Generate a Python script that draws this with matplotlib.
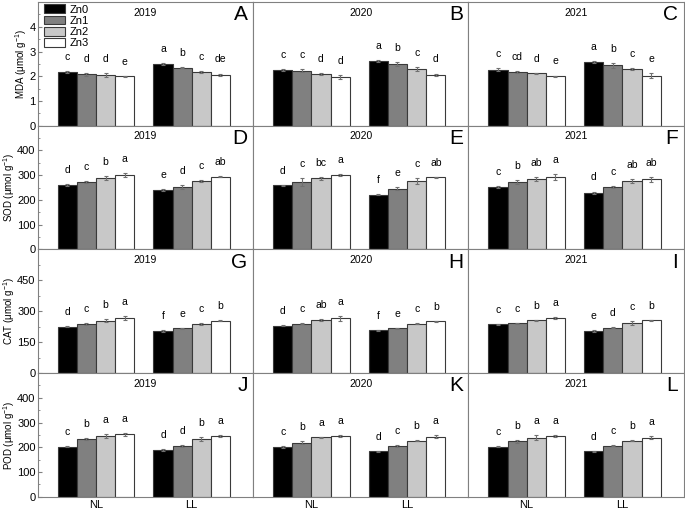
import numpy as np
import matplotlib.pyplot as plt

# treatments, groups, years
zn_levels = ['Zn0', 'Zn1', 'Zn2', 'Zn3']
groups = ['NL', 'LL']
years = ['2019', '2020', '2021']
bar_colors = ['#000000', '#808080', '#c8c8c8', '#ffffff']

# MDA (umol g-1): [year][group][zn]
mda = [[[2.17, 2.08, 2.04, 1.99], [2.49, 2.34, 2.18, 2.05]],
       [[2.27, 2.23, 2.09, 1.97], [2.61, 2.48, 2.30, 2.07]],
       [[2.27, 2.18, 2.13, 1.99], [2.57, 2.44, 2.29, 2.03]]]
mda_err = [[[0.03, 0.07, 0.09, 0.03], [0.05, 0.02, 0.03, 0.06]],
           [[0.04, 0.05, 0.04, 0.08], [0.03, 0.08, 0.07, 0.04]],
           [[0.07, 0.03, 0.02, 0.04], [0.03, 0.09, 0.03, 0.11]]]
mda_sig = [[['c', 'd', 'd', 'e'], ['a', 'b', 'c', 'de']],
           [['c', 'c', 'd', 'd'], ['a', 'b', 'c', 'd']],
           [['c', 'cd', 'd', 'e'], ['a', 'b', 'c', 'e']]]

# SOD (umol g-1)
sod = [[[260, 273, 288, 300], [240, 253, 276, 293]],
       [[259, 273, 287, 301], [221, 245, 275, 292]],
       [[253, 272, 285, 291], [229, 253, 277, 283]]]
sod_err = [[[3, 3, 9, 8], [3, 8, 3, 2]],
           [[2, 15, 5, 3], [2, 6, 12, 2]],
           [[3, 8, 8, 12], [5, 3, 7, 10]]]
sod_sig = [[['d', 'c', 'b', 'a'], ['e', 'd', 'c', 'ab']],
           [['d', 'c', 'bc', 'a'], ['f', 'e', 'c', 'ab']],
           [['c', 'b', 'ab', 'a'], ['d', 'c', 'ab', 'ab']]]

# CAT (umol g-1)
cat = [[[226, 237, 255, 267], [204, 217, 237, 255]],
       [[229, 240, 256, 266], [207, 218, 239, 252]],
       [[236, 242, 256, 267], [204, 221, 243, 256]]]
cat_err = [[[3, 4, 6, 11], [3, 3, 6, 2]],
           [[2, 4, 4, 13], [2, 2, 2, 3]],
           [[3, 3, 3, 6], [3, 4, 8, 2]]]
cat_sig = [[['d', 'c', 'b', 'a'], ['f', 'e', 'c', 'b']],
           [['d', 'c', 'ab', 'a'], ['f', 'e', 'c', 'b']],
           [['c', 'c', 'b', 'a'], ['e', 'd', 'c', 'b']]]

# POD (umol g-1)
pod = [[[202, 232, 245, 252], [190, 205, 233, 245]],
       [[203, 219, 241, 245], [184, 206, 227, 242]],
       [[203, 224, 239, 246], [184, 207, 226, 239]]]
pod_err = [[[2, 4, 8, 6], [4, 4, 8, 5]],
           [[4, 6, 2, 4], [2, 5, 2, 6]],
           [[2, 7, 9, 3], [2, 2, 2, 6]]]
pod_sig = [[['c', 'b', 'a', 'a'], ['d', 'd', 'b', 'a']],
           [['c', 'b', 'a', 'a'], ['d', 'c', 'b', 'a']],
           [['c', 'b', 'a', 'a'], ['d', 'c', 'b', 'a']]]

rows = [
    (mda, mda_err, mda_sig, 'MDA (μmol g$^{-1}$)', 5, [0, 1, 2, 3, 4], 0.5, 'ABC'),
    (sod, sod_err, sod_sig, 'SOD (μmol g$^{-1}$)', 500, [0, 100, 200, 300, 400], 50, 'DEF'),
    (cat, cat_err, cat_sig, 'CAT (μmol g$^{-1}$)', 600, [0, 150, 300, 450], 75, 'GHI'),
    (pod, pod_err, pod_sig, 'POD (μmol g$^{-1}$)', 500, [0, 100, 200, 300, 400], 50, 'JKL'),
]

plt.rcParams['font.family'] = ['Liberation Sans', 'DejaVu Sans']
plt.rcParams['mathtext.default'] = 'regular'
fig, axes = plt.subplots(4, 3, figsize=(6.85, 5.09), dpi=100, sharey='row')
fig.subplots_adjust(left=0.055, right=0.998, top=0.996, bottom=0.024, wspace=0, hspace=0)

width = 0.2
xg = np.arange(len(groups)) + 1
offsets = (np.arange(4) - 1.5) * width

for r, (vals, errs, sigs, ylabel, ymax, ticks, minor, letters) in enumerate(rows):
    for c, year in enumerate(years):
        ax = axes[r, c]
        v = np.array(vals[c])
        e = np.array(errs[c])
        for k in range(4):
            ax.bar(xg + offsets[k], v[:, k], width, yerr=e[:, k], color=bar_colors[k],
                   edgecolor='#3a3a3a', linewidth=0.8, label=zn_levels[k],
                   error_kw=dict(ecolor='#707070', elinewidth=0.8, capsize=1.5, capthick=0.8))
            for g in range(len(groups)):
                ax.annotate(sigs[c][g][k], (xg[g] + offsets[k], v[g, k] + e[g, k]),
                            xytext=(0, 6.5), textcoords='offset points',
                            ha='center', va='bottom', fontsize=7.5)
        ax.set_xlim(0.39, 2.64)
        ax.set_ylim(0, ymax)
        ax.set_yticks(ticks)
        ax.set_yticks(np.arange(0, ymax, minor), minor=True)
        for sp in ax.spines.values():
            sp.set_color('#808080')
            sp.set_linewidth(0.8)
        ax.text(0.5, 0.955, year, transform=ax.transAxes, ha='center', va='top', fontsize=7.5)
        ax.text(0.975, 0.975, letters[c], transform=ax.transAxes, ha='right', va='top', fontsize=15)
        ax.set_xticks(xg)
        if r == 3:
            ax.set_xticklabels(groups, fontsize=8)
        else:
            ax.set_xticklabels([])
        ax.tick_params(axis='x', length=0, pad=2)
        if c == 0:
            ax.tick_params(axis='y', which='major', direction='in', length=3, labelsize=8,
                           color='#808080', pad=1.5)
            ax.tick_params(axis='y', which='minor', direction='in', length=1.5, color='#808080')
            ax.set_ylabel(ylabel, fontsize=7, labelpad=0)
        else:
            ax.tick_params(axis='y', which='both', length=0, labelleft=False)

axes[0, 0].legend(loc='upper left', bbox_to_anchor=(0.0, 1.035), frameon=False, fontsize=8,
                  handlelength=1.9, handleheight=0.85, labelspacing=0.08, handletextpad=0.4,
                  borderaxespad=0.2)

fig.savefig('out.png', dpi=100)
